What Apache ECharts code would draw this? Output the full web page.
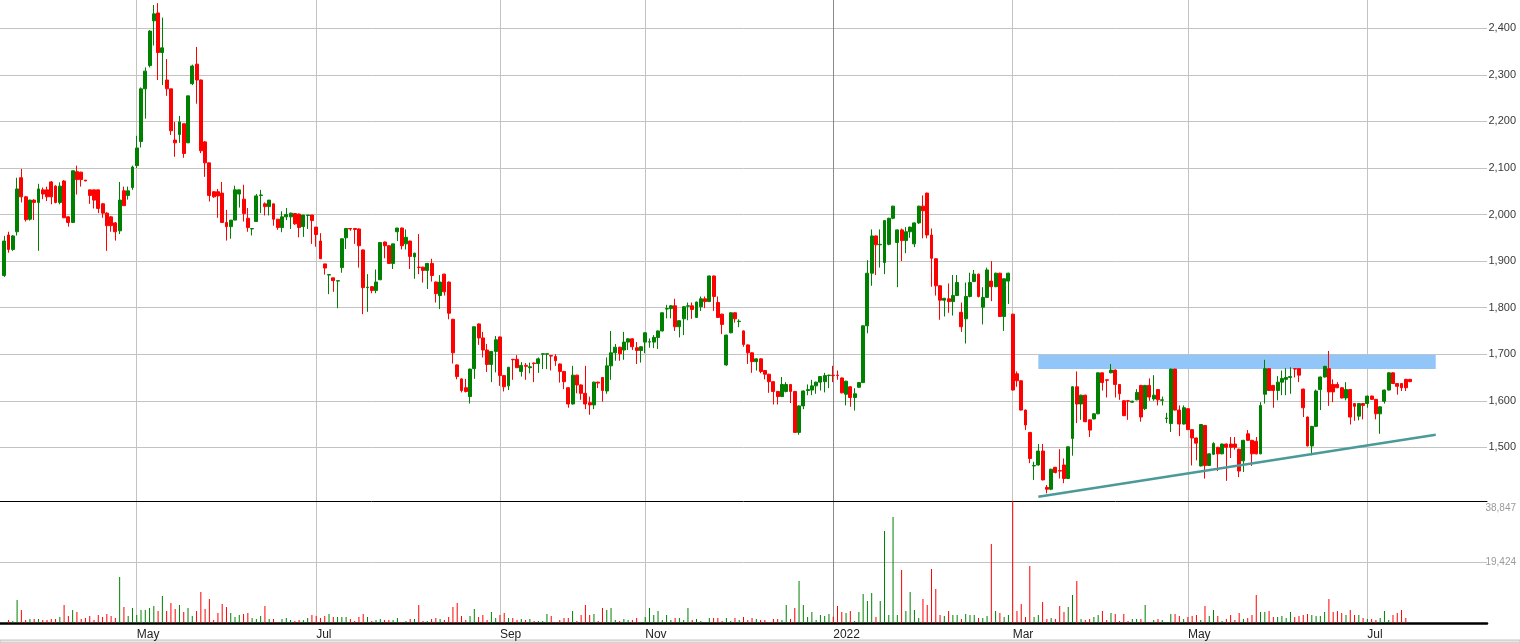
<!DOCTYPE html>
<html>
<head>
<meta charset="utf-8">
<script src="https://cdn.jsdelivr.net/npm/echarts@6/dist/echarts.min.js"></script>
<style>
html,body{margin:0;padding:0;background:#ffffff;}
#chart{width:1520px;height:643px;}
</style>
</head>
<body>
<div id="chart"></div>
<script>
// ---- Daily sessions (oldest first) ----
const opens = [
1869,1956,1925,1963,2079,2038,1990,2031,2026,2053,
2053,2070,2061,2026,2072,1995,1983,2092,2091,2074,
2053,2053,2053,2023,2003,1995,1982,1965,2051,2041,
2058,2105,2157,2270,2320,2416,2433,2348,2289,2270,
2160,2172,2195,2154,2281,2323,2289,2156,2111,2049,
2049,2046,1983,1974,1988,2044,2033,1992,1969,1985,
2041,2023,2017,2023,1990,1972,1995,1995,2002,2001,
1974,1998,1999,1973,1943,1894,1870,1864,1857,1886,
1950,1970,1970,1969,1924,1843,1845,1837,1860,1941,
1933,1895,1963,1971,1937,1943,1909,1887,1887,1880,
1895,1855,1826,1872,1855,1775,1677,1647,1628,1609,
1669,1765,1735,1709,1678,1706,1737,1654,1632,1689,
1689,1663,1676,1671,1681,1680,1700,1700,1697,1695,
1679,1663,1628,1593,1655,1634,1616,1596,1591,1640,
1650,1621,1675,1703,1715,1709,1726,1733,1714,1708,
1726,1726,1726,1736,1750,1797,1798,1804,1759,1776,
1803,1804,1779,1802,1819,1813,1868,1811,1786,1677,
1746,1789,1770,1750,1720,1703,1684,1690,1665,1657,
1641,1620,1609,1620,1635,1620,1532,1589,1622,1623,
1632,1640,1641,1654,1655,1655,1649,1614,1630,1607,
1629,1639,1761,1874,1954,1935,1897,1936,1992,1940,
1967,1944,1963,1937,1982,2018,2046,1956,1905,1847,
1816,1819,1813,1826,1790,1776,1824,1856,1872,1801,
1822,1857,1845,1874,1781,1857,1786,1658,1643,1580,
1532,1460,1462,1492,1414,1410,1457,1450,1462,1433,
1519,1630,1593,1612,1559,1561,1572,1660,1645,1660,
1666,1635,1600,1600,1597,1602,1633,1583,1633,1604,
1624,1601,1562,1551,1668,1580,1550,1583,1538,1520,
1460,1547,1461,1485,1500,1486,1507,1507,1507,1496,
1471,1529,1515,1513,1486,1614,1669,1633,1622,1640,
1646,1650,1669,1669,1625,1565,1503,1545,1624,1651,
1669,1635,1635,1628,1606,1624,1594,1567,1594,1594,
1610,1603,1572,1599,1623,1660,1637,1637,1646,1646
];
const highs = [
1954,1963,1956,2079,2098,2040,2032,2033,2066,2058,
2060,2072,2063,2069,2074,1996,2094,2105,2092,2074,
2053,2053,2053,2025,2005,1997,1984,2070,2060,2060,
2105,2169,2273,2316,2396,2450,2454,2423,2334,2270,
2199,2212,2195,2255,2322,2360,2290,2158,2111,2050,
2055,2070,2010,1988,2062,2053,2064,2014,1970,2044,
2053,2026,2031,2023,1990,2007,2014,2004,2003,2002,
1999,1999,1999,1973,1960,1894,1872,1864,1858,1948,
1970,1971,1971,1970,1925,1872,1846,1882,1940,1942,
1934,1937,1971,1972,1968,1944,1918,1958,1888,1896,
1905,1856,1870,1873,1856,1776,1678,1648,1647,1669,
1759,1766,1748,1722,1707,1739,1738,1655,1672,1690,
1698,1683,1681,1682,1682,1693,1701,1701,1698,1700,
1680,1664,1629,1675,1656,1635,1675,1609,1641,1641,
1651,1693,1750,1722,1716,1748,1734,1734,1726,1717,
1747,1734,1741,1751,1790,1806,1805,1819,1773,1803,
1811,1811,1813,1824,1824,1869,1869,1824,1787,1742,
1790,1790,1775,1751,1721,1704,1691,1691,1666,1658,
1642,1621,1651,1640,1636,1621,1590,1622,1635,1645,
1641,1653,1660,1656,1675,1665,1650,1643,1631,1627,
1640,1762,1902,1968,1955,1968,1988,1993,2019,1968,
1970,1973,1974,1983,2019,2041,2047,1970,1906,1848,
1821,1852,1870,1870,1811,1854,1875,1881,1873,1844,
1886,1900,1875,1875,1863,1875,1787,1663,1644,1581,
1533,1469,1507,1507,1419,1454,1458,1496,1476,1502,
1631,1663,1613,1613,1560,1573,1661,1661,1646,1679,
1667,1636,1601,1601,1600,1625,1634,1634,1648,1655,
1625,1609,1574,1669,1669,1590,1590,1584,1539,1521,
1550,1548,1487,1511,1501,1508,1508,1522,1522,1497,
1516,1537,1516,1522,1597,1688,1670,1634,1653,1665,
1670,1672,1670,1670,1626,1566,1546,1624,1652,1675,
1707,1646,1640,1629,1640,1625,1595,1595,1595,1611,
1611,1604,1588,1624,1661,1661,1638,1638,1647,1647
];
const lows = [
1866,1918,1922,1955,2026,1985,1987,1988,1922,2033,
2029,2022,2024,2022,1993,1974,1982,2043,2060,2072,
2023,2013,2003,1993,1922,1963,1944,1958,2019,2032,
2053,2100,2144,2206,2316,2363,2289,2278,2255,2171,
2124,2154,2122,2154,2278,2238,2132,2081,2028,2036,
1993,1983,1944,1948,1988,2015,1985,1963,1955,1985,
2003,1998,1998,1976,1967,1962,1988,1969,1978,1951,
1952,1969,1937,1931,1905,1871,1829,1834,1799,1875,
1926,1965,1937,1886,1786,1791,1831,1831,1859,1906,
1894,1883,1943,1925,1925,1883,1862,1872,1854,1840,
1856,1811,1797,1826,1775,1680,1646,1618,1618,1594,
1647,1720,1693,1662,1640,1661,1632,1620,1623,1645,
1671,1652,1645,1659,1640,1660,1668,1668,1665,1675,
1639,1625,1585,1592,1616,1602,1582,1570,1582,1627,
1598,1615,1645,1686,1686,1688,1709,1709,1679,1682,
1702,1714,1713,1711,1749,1777,1777,1750,1736,1741,
1773,1776,1778,1793,1799,1812,1793,1778,1743,1675,
1745,1768,1758,1716,1679,1660,1665,1659,1646,1617,
1592,1592,1608,1618,1595,1531,1527,1582,1612,1612,
1615,1622,1618,1627,1640,1645,1616,1590,1587,1579,
1628,1638,1745,1847,1870,1886,1872,1934,1990,1844,
1900,1917,1950,1930,1980,1949,1949,1845,1826,1774,
1781,1789,1783,1825,1748,1723,1822,1855,1822,1764,
1821,1814,1844,1780,1750,1808,1622,1630,1579,1537,
1466,1430,1461,1429,1401,1408,1444,1433,1423,1432,
1482,1552,1559,1554,1522,1560,1571,1622,1607,1659,
1607,1602,1567,1559,1596,1601,1555,1580,1600,1600,
1590,1590,1552,1533,1579,1524,1549,1537,1461,1472,
1459,1433,1460,1484,1449,1485,1428,1477,1495,1436,
1447,1514,1460,1485,1485,1594,1621,1585,1601,1612,
1612,1615,1650,1640,1565,1502,1483,1544,1580,1650,
1589,1597,1627,1605,1601,1549,1557,1558,1560,1585,
1602,1560,1529,1594,1622,1636,1613,1621,1621,1640
];
const closes = [
1943,1925,1954,2055,2038,1989,2031,2026,2055,2044,
2038,2038,2026,2061,1993,1983,2094,2075,2075,2072,
2041,2031,2013,2003,1976,1976,1963,2031,2019,2051,
2102,2143,2270,2308,2394,2431,2348,2358,2270,2180,
2154,2199,2131,2255,2319,2289,2137,2111,2041,2038,
2040,1983,1974,1988,2053,2053,2002,1972,1970,2040,
2042,2017,2031,1990,1972,1995,2000,2003,1980,1972,
1999,1999,1987,1957,1905,1885,1871,1858,1858,1948,
1970,1969,1968,1933,1843,1844,1837,1855,1940,1933,
1895,1937,1971,1933,1951,1910,1917,1886,1880,1895,
1869,1830,1855,1834,1788,1703,1652,1622,1620,1668,
1759,1735,1709,1678,1706,1731,1654,1630,1672,1688,
1671,1676,1674,1673,1680,1690,1701,1701,1696,1686,
1663,1641,1593,1655,1634,1616,1593,1591,1640,1638,
1622,1675,1703,1715,1701,1726,1733,1716,1708,1716,
1746,1727,1736,1750,1789,1798,1804,1759,1772,1802,
1804,1796,1812,1819,1813,1868,1824,1779,1764,1741,
1789,1776,1771,1721,1703,1684,1690,1663,1657,1641,
1620,1609,1635,1635,1620,1532,1589,1621,1624,1632,
1640,1652,1654,1655,1654,1654,1617,1642,1607,1615,
1639,1761,1874,1954,1935,1936,1987,1992,2018,1967,
1944,1963,1973,1982,2018,2008,1956,1906,1847,1816,
1820,1813,1826,1854,1759,1824,1854,1872,1824,1822,
1881,1845,1874,1781,1862,1874,1623,1643,1580,1548,
1476,1461,1492,1430,1410,1453,1446,1449,1433,1501,
1630,1593,1612,1555,1537,1572,1660,1639,1644,1666,
1635,1615,1568,1599,1599,1618,1565,1633,1608,1612,
1602,1602,1563,1668,1580,1550,1585,1538,1520,1509,
1549,1461,1486,1508,1486,1507,1500,1500,1500,1449,
1515,1515,1486,1486,1590,1669,1622,1622,1640,1648,
1650,1652,1668,1655,1585,1503,1545,1621,1651,1674,
1619,1619,1628,1606,1624,1565,1588,1594,1590,1610,
1603,1572,1587,1623,1660,1637,1631,1628,1628,1641
];
const volumes = [
318,955,637,7323,4139,955,1274,1274,1274,955,
955,1274,1274,1910,5731,2229,4139,3502,1274,1592,
2229,955,2547,1910,2866,2229,1592,14646,5094,2229,
4776,2547,4139,4139,4776,5413,3821,8597,3821,6368,
4458,5731,3502,4776,2229,3821,9870,4458,7642,955,
3184,6050,5094,3184,1910,2547,2866,3184,1592,1274,
2229,5413,1274,1274,318,1274,1592,955,637,955,
955,1592,2547,2229,1592,2229,2866,1910,1910,1910,
1910,1274,637,1910,2866,1910,637,955,1274,955,
955,955,1592,318,637,1274,1274,5731,637,637,
1274,1592,1274,955,1910,5094,6368,2229,955,2229,
4458,1910,2547,955,3502,1592,2547,3184,1592,1592,
955,1274,955,1274,637,637,637,2866,2229,318,
955,1592,1592,3821,637,2547,5731,2547,2866,637,
4776,4139,4776,955,637,1274,955,955,1592,318,
1910,4776,2547,3821,955,2547,955,1592,1592,955,
4776,955,1274,637,100,1592,1592,1592,637,1592,
637,1592,955,1910,955,1592,1274,955,955,318,
1274,1274,955,5731,1274,4776,13373,5731,1910,3502,
955,2547,2229,2866,2000,5413,3502,3184,3821,637,
3502,9234,7005,9552,1910,7005,29293,2547,33750,2547,
16875,3821,9870,4139,1592,7642,5731,17194,10826,2547,
2229,3821,2547,2547,1274,2866,2547,2547,1592,1592,
2229,25154,3821,3184,1910,2547,39400,3821,6050,1910,
18149,1910,2547,6686,1274,1592,1274,5413,3502,5094,
8915,13373,1274,955,1274,1910,2547,3821,955,3184,
2866,637,2866,637,1274,1274,1274,5731,318,955,
1274,955,318,2866,2866,2229,1274,1910,2229,2547,
955,5413,2229,4139,2229,637,1274,2547,955,3184,
1274,1592,2547,8915,3502,3502,3821,1910,1910,2229,
1592,3502,1910,2229,2547,2866,2547,2229,2229,3502,
7642,3502,3821,3184,2547,4139,2547,2547,1592,1274,
1274,955,1592,3821,955,2547,3184,4139,1592,100
];

// Month boundaries: [session index into the arrays above, label]
const monthTicks = [[31,'May'],[73,'Jul'],[116,'Sep'],[150,'Nov'],[194,'2022'],[236,'Mar'],[277,'May'],[319,'Jul']];
const leadingSlots = 1;                // one earlier session, scrolled out of view on the left
const emptySlotsAfter = 18;            // empty future sessions at the right
const priceTicks = [1500,1600,1700,1800,1900,2000,2100,2200,2300,2400];
const priceRange = [1384.7, 2460.8];
const volumeLineTicks = [19423.5];
const volumeLabelTicks = [19423.5, 38847];
const volumeRange = [0, 38847];
// drawings: resistance band and rising support line (session index, price)
const resistanceZone = { from: 242, to: 335, top: 1699, bottom: 1668 };
const supportLine = { start: [242, 1394], end: [335, 1527] };

// ---- build ----
const UP = '#008000', DOWN = '#ff0000';
const L = leadingSlots;
const sessionCount = L + opens.length + emptySlotsAfter;
const sessions = Array.from({ length: sessionCount }, (_, i) => 'S' + (i - L));
const tickMap = new Map(monthTicks.map(([i, label]) => [i + L, label]));
const isMonthTick = (idx) => tickMap.has(idx);
const vLineColors = monthTicks.map(t => t[1] === '2022' ? '#8a8a8a' : '#c6c3bd');
const fmt = v => Math.round(v).toLocaleString('en-US');

const pad = Array.from({ length: L }, () => '-');
const candleData = pad.concat(opens.map((o, i) => [o, closes[i], lows[i], highs[i]]));
const volumeData = pad.concat(volumes.map((v, i) => ({ value: v, itemStyle: { color: closes[i] >= opens[i] ? UP : DOWN } })));

const RIGHT = 33;

const option = {
  animation: false,
  backgroundColor: '#ffffff',
  grid: [
    { left: 0, right: RIGHT, top: 0, height: 501, containLabel: false, outerBoundsMode: 'none' },
    { left: 0, right: RIGHT, top: 501, height: 122, containLabel: false, outerBoundsMode: 'none' }
  ],
  xAxis: [
    {
      type: 'category', gridIndex: 0, data: sessions, boundaryGap: false,
      axisLine: { show: true, onZero: false, lineStyle: { color: '#000000', width: 1 } },
      axisTick: { show: false }, axisLabel: { show: false },
      splitLine: { show: true, interval: isMonthTick, lineStyle: { color: vLineColors, width: 1 } }
    },
    {
      type: 'category', gridIndex: 1, data: sessions, boundaryGap: false,
      axisLine: { show: true, onZero: false, lineStyle: { color: '#000000', width: 2.5 } },
      axisTick: { show: false },
      axisLabel: {
        show: true, interval: isMonthTick, formatter: (v, i) => tickMap.get(i) || '',
        align: 'left', margin: 6, fontSize: 12, color: '#222222',
        fontFamily: '"Liberation Sans Narrow", "Liberation Sans", Arial, sans-serif'
      },
      splitLine: { show: true, interval: isMonthTick, lineStyle: { color: vLineColors, width: 1 } }
    }
  ],
  yAxis: [
    {
      type: 'value', gridIndex: 0, position: 'right', min: priceRange[0], max: priceRange[1],
      minInterval: 100, maxInterval: 100, splitNumber: 10,
      axisLine: { show: false },
      axisTick: { show: false, customValues: priceTicks },
      axisLabel: {
        customValues: priceTicks, formatter: fmt, align: 'right', margin: 29,
        fontSize: 11, color: '#3a3a3a', fontFamily: '"Liberation Sans", Arial, sans-serif'
      },
      splitLine: { show: true, lineStyle: { color: '#c3c3c3', width: 1 } }
    },
    {
      type: 'value', gridIndex: 1, position: 'right', min: volumeRange[0], max: volumeRange[1],
      axisLine: { show: false },
      axisTick: { show: false, customValues: volumeLineTicks },
      axisLabel: {
        customValues: volumeLabelTicks, formatter: fmt, align: 'right', margin: 29,
        fontSize: 10, color: '#9a9a9a', fontFamily: '"Liberation Sans", Arial, sans-serif',
        verticalAlignMaxLabel: 'top', padding: [2, 0, 0, 0]
      },
      splitLine: { show: true, lineStyle: { color: '#c3c3c3', width: 1 } }
    }
  ],
  series: [
    {
      name: 'zone', type: 'line', xAxisIndex: 0, yAxisIndex: 0, data: [], z: 1, silent: true,
      markArea: {
        silent: true,
        itemStyle: { color: '#93c6f8', opacity: 1 },
        data: [[
          { coord: [resistanceZone.from + L, resistanceZone.top] },
          { coord: [resistanceZone.to + L, resistanceZone.bottom] }
        ]]
      }
    },
    {
      name: 'price', type: 'candlestick', xAxisIndex: 0, yAxisIndex: 0, data: candleData, z: 3,
      barWidth: 3.4, clip: false,
      itemStyle: { color: UP, color0: DOWN, borderColor: UP, borderColor0: DOWN, borderColorDoji: DOWN, borderWidth: 1 }
    },
    {
      name: 'trend', type: 'line', xAxisIndex: 0, yAxisIndex: 0, data: [], z: 5, silent: true,
      markLine: {
        silent: true, symbol: ['none', 'none'], label: { show: false },
        lineStyle: { color: '#4b9a9a', width: 2.5, type: 'solid' },
        emphasis: { disabled: true },
        data: [[
          { coord: [supportLine.start[0] + L, supportLine.start[1]] },
          { coord: [supportLine.end[0] + L, supportLine.end[1]] }
        ]]
      }
    },
    {
      name: 'volume', type: 'bar', xAxisIndex: 1, yAxisIndex: 1, data: volumeData, barWidth: 1, z: 3
    }
  ],
  graphic: [
    { type: 'rect', shape: { x: 0, y: 640, width: 1520, height: 3 }, style: { fill: '#e6e6e6', stroke: '#c4c4c4', lineWidth: 1 }, silent: true }
  ]
};

const chart = echarts.init(document.getElementById('chart'));
chart.setOption(option);
</script>
</body>
</html>
